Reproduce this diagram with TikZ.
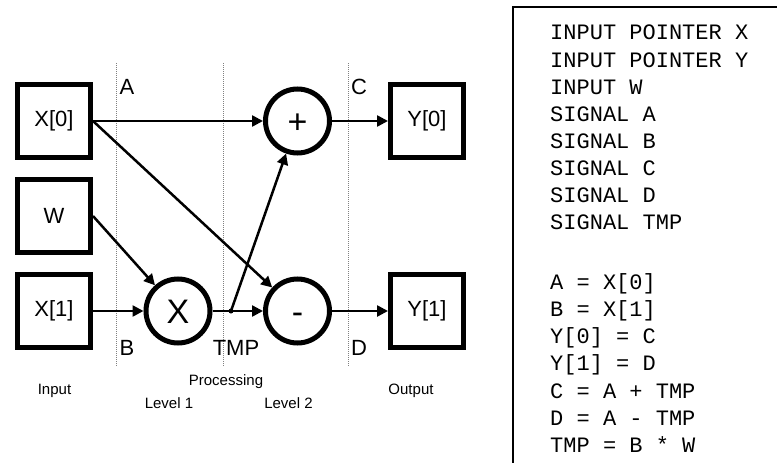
\documentclass[tikz,border=0pt]{standalone}
\usepackage{fontspec}
\setmainfont{Liberation Sans}
\setmonofont{Liberation Mono}
\usetikzlibrary{arrows.meta}
\tikzset{
  blk/.style={draw, line width=5pt, minimum size=73pt, inner sep=0pt,
    font=\fontsize{22}{26}\selectfont},
  op/.style={draw, circle, line width=5pt, minimum size=64pt, inner sep=0pt,
    text height=24.4pt, text depth=0pt, font=\fontsize{34}{38}\selectfont},
  arr/.style={-{Triangle[length=11pt,width=11pt]}, line width=2.5pt},
  sig/.style={inner sep=0pt, font=\fontsize{22}{26}\selectfont},
  note/.style={inner sep=0pt, font=\fontsize{15}{18}\selectfont},
  lvl/.style={densely dotted, gray, line width=1pt},
  code/.style={inner sep=0pt, align=left, font=\ttfamily\fontsize{22}{27.1}\selectfont}
}

\begin{document}
\begin{tikzpicture}[x=1pt,y=-1pt]
  \useasboundingbox (0,0) rectangle (777,463);
  % level separators
  \draw[lvl] (116,63) -- (116,367);
  \draw[lvl] (223,63) -- (223,367);
  \draw[lvl] (348,63) -- (348,367);
  % inputs, operators, outputs
  \node[blk] (x0) at (54,121) {X[0]};
  \node[blk] (w) at (54,216) {W};
  \node[blk] (x1) at (54,311) {X[1]};
  \node[op] (mul) at (178,311) {X};
  \node[op] (add) at (297.5,121) {+};
  \node[op] (sub) at (297.5,311) {-};
  \node[blk] (y0) at (427,121) {Y[0]};
  \node[blk] (y1) at (427,311) {Y[1]};
  \coordinate (tap) at (231,311);
  % signal names
  \node[sig] (sa) at (127,87) {A};
  \node[sig] (sb) at (127,348) {B};
  \node[sig] (sc) at (359,87) {C};
  \node[sig] (sd) at (359,348) {D};
  \node[sig] (stmp) at (236,348) {TMP};
  % wires
  \draw[arr] (x0) -- (add);
  \draw[arr] (x0.east) -- (sub);
  \draw[arr] (w.east) -- (mul);
  \draw[arr] (x1) -- (mul);
  \draw[arr] (mul) -- (sub);
  \draw[arr] (tap) -- (add);
  \fill (tap) circle (2.5pt);
  \draw[arr] (add) -- (y0);
  \draw[arr] (sub) -- (y1);
  % captions
  \node[note] (cin) at (54.5,391) {Input};
  \node[note] (cproc) at (226,382) {Processing};
  \node[note] (clv1) at (169,403) {Level 1};
  \node[note] (clv2) at (288.5,403) {Level 2};
  \node[note] (cout) at (411,391) {Output};
  % listing
  \draw[line width=2pt] (513,463) -- (513,7) -- (777,7);
  \node[code, anchor=north west] (src) at (550,25) {INPUT POINTER X\\
    INPUT POINTER Y\\
    INPUT W\\
    SIGNAL A\\
    SIGNAL B\\
    SIGNAL C\\
    SIGNAL D\\
    SIGNAL TMP\\[32.9pt]
    A = X[0]\\
    B = X[1]\\
    Y[0] = C\\
    Y[1] = D\\
    C = A + TMP\\
    D = A - TMP\\
    TMP = B * W};
\end{tikzpicture}
\end{document}
